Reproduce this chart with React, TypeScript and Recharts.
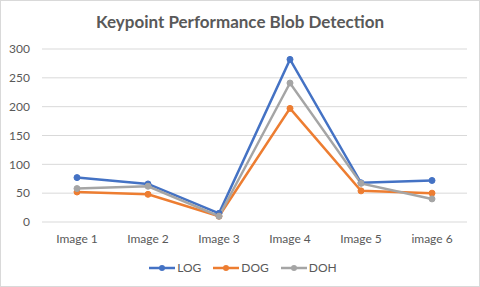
import React from 'react';
import { LineChart, Line, XAxis, YAxis, CartesianGrid, Legend } from 'recharts';

const categories = ['Image 1', 'Image 2', 'Image 3', 'Image 4', 'Image 5', 'image 6'];
const logValues = [77, 66, 15, 282, 68, 72];
const dogValues = [52, 48, 10, 197, 54, 50];
const dohValues = [58, 62, 10, 241, 67, 40];
const yTicks = [0, 50, 100, 150, 200, 250, 300];

const series = [
  { key: 'LOG', color: '#4472C4' },
  { key: 'DOG', color: '#ED7D31' },
  { key: 'DOH', color: '#A5A5A5' },
];

const data = categories.map((name, i) => ({
  name,
  LOG: logValues[i],
  DOG: dogValues[i],
  DOH: dohValues[i],
}));

const FONT = 'Lato, "Open Sans", sans-serif';
const TEXT = '#595959';

const LegendContent = () => (
  <div
    style={{
      display: 'flex',
      justifyContent: 'center',
      gap: 12,
      paddingTop: 10,
      paddingLeft: 18,
      fontFamily: FONT,
      fontSize: 12,
      color: TEXT,
    }}
  >
    {series.map(s => (
      <div key={s.key} style={{ display: 'flex', alignItems: 'center' }}>
        <svg width={26} height={10}>
          <line x1={0} y1={5} x2={26} y2={5} stroke={s.color} strokeWidth={2.5} />
          <circle cx={13} cy={5} r={3} fill={s.color} />
        </svg>
        <span style={{ marginLeft: 2 }}>{s.key}</span>
      </div>
    ))}
  </div>
);

const App: React.FC = () => {
  return (
    <div
      style={{
        position: 'absolute',
        top: 0,
        left: 0,
        width: 478,
        height: 285,
        border: '1px solid #d9d9d9',
        background: '#fff',
      }}
    >
      <div
        style={{
          position: 'absolute',
          top: 10,
          left: 0,
          width: 478,
          textAlign: 'center',
          fontFamily: FONT,
          fontWeight: 'bold',
          fontSize: 17,
          color: TEXT,
        }}
      >
        Keypoint Performance Blob Detection
      </div>
      <LineChart width={478} height={285} data={data} margin={{ top: 48, right: 12, left: 0, bottom: 8 }}>
        <CartesianGrid vertical={false} stroke="#d9d9d9" />
        <XAxis
          dataKey="name"
          axisLine={false}
          tickLine={false}
          height={28}
          padding={{ left: 35, right: 35 }}
          tick={{ fill: TEXT, fontSize: 12, fontFamily: FONT }}
          dy={4}
        />
        <YAxis
          domain={[0, 300]}
          ticks={yTicks}
          axisLine={false}
          tickLine={false}
          width={41}
          tick={{ fill: TEXT, fontSize: 12, fontFamily: FONT }}
          dx={-4}
        />
        <Legend verticalAlign="bottom" height={28} content={<LegendContent />} />
        {series.map(s => (
          <Line
            key={s.key}
            type="linear"
            dataKey={s.key}
            stroke={s.color}
            strokeWidth={2.5}
            dot={{ r: 3, fill: s.color, stroke: s.color, strokeWidth: 1 }}
            isAnimationActive={false}
          />
        ))}
      </LineChart>
    </div>
  );
};

export default App;
